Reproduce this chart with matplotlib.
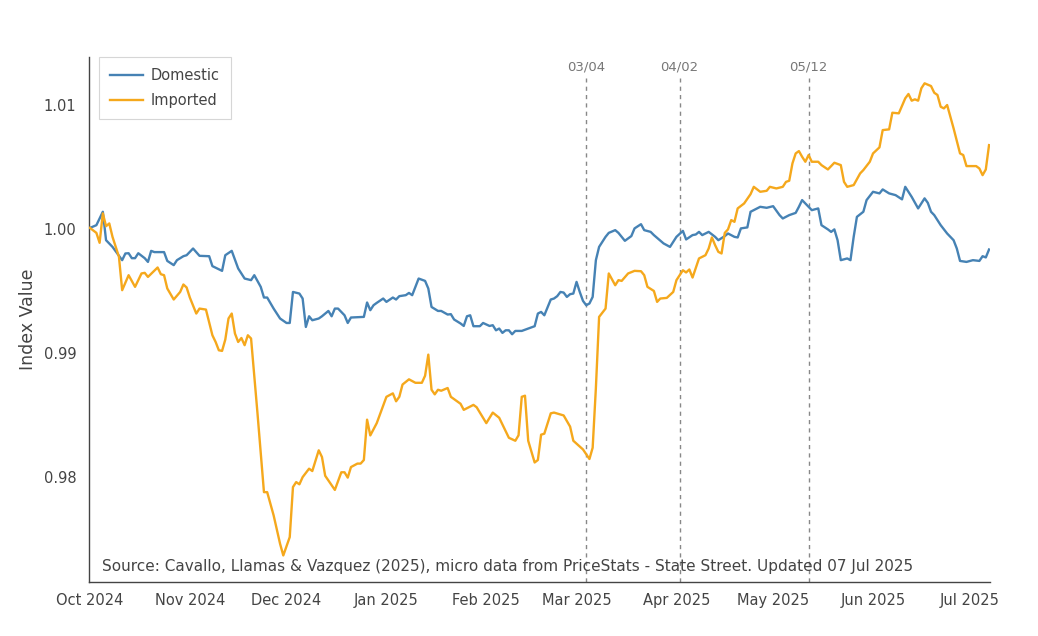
import matplotlib
matplotlib.use("Agg")
import matplotlib.pyplot as plt
import matplotlib.dates as mdates
import pandas as pd

start_date = "2024-10-01"

dom_days = [0, 2, 4, 5, 7, 10, 11, 12, 13, 14, 15, 17, 18, 19, 20, 23, 24, 26, 27, 29,
            30, 32, 34, 37, 38, 41, 42, 44, 46, 48, 50, 51, 53, 54, 55, 57, 59, 61, 62, 63,
            65, 66, 67, 68, 69, 71, 72, 74, 75, 76, 77, 79, 80, 81, 85, 86, 87, 88, 89, 91,
            92, 94, 95, 96, 98, 99, 100, 102, 104, 105, 106, 108, 109, 111, 112, 113, 115, 116, 117, 118,
            119, 121, 122, 124, 125, 126, 127, 128, 129, 130, 131, 132, 134, 136, 138, 139, 140, 141, 143, 144,
            145, 146, 147, 148, 149, 150, 151, 152, 153, 154, 155, 156, 157, 158, 160, 161, 163, 164, 166, 168,
            169, 171, 172, 174, 175, 178, 180, 182, 184, 185, 187, 188, 189, 190, 192, 194, 195, 197, 198, 200,
            201, 202, 204, 205, 207, 208, 210, 212, 214, 215, 217, 219, 220, 221, 222, 224, 226, 227, 229, 230,
            231, 232, 233, 235, 236, 237, 238, 240, 241, 243, 245, 246, 248, 250, 252, 253, 255, 257, 259, 260,
            261, 262, 264, 266, 268, 269, 270, 272, 274, 276, 277, 278, 279]
dom_vals = [1.0001, 1.00032, 1.0014, 0.99911, 0.99857, 0.9975, 0.99804, 0.99806, 0.99766, 0.99766,
            0.99806, 0.99766, 0.99736, 0.99825, 0.99815, 0.99815, 0.99744, 0.9971, 0.9975, 0.99782,
            0.9979, 0.99844, 0.99785, 0.99782, 0.99702, 0.99664, 0.9979, 0.99825, 0.99683, 0.99602,
            0.99589, 0.99629, 0.99535, 0.99449, 0.99449, 0.9936, 0.9928, 0.99244, 0.99244, 0.99494,
            0.99481, 0.99441, 0.99212, 0.99298, 0.99266, 0.9928, 0.99298, 0.99341, 0.99298, 0.9936,
            0.9936, 0.99306, 0.99244, 0.99288, 0.99293, 0.99409, 0.99347, 0.99387, 0.99406, 0.99441,
            0.99414, 0.99449, 0.99433, 0.9946, 0.99468, 0.99486, 0.99468, 0.99602, 0.99583, 0.99522,
            0.99373, 0.99341, 0.99341, 0.99312, 0.99315, 0.99272, 0.9924, 0.9922, 0.99298, 0.99306,
            0.99218, 0.99218, 0.99244, 0.9922, 0.99226, 0.99185, 0.99199, 0.99164, 0.99185, 0.99185,
            0.99153, 0.9918, 0.9918, 0.99199, 0.99218, 0.9932, 0.99333, 0.99306, 0.99433, 0.99441,
            0.9946, 0.99494, 0.99489, 0.99454, 0.99476, 0.99481, 0.99575, 0.99494, 0.99422, 0.99387,
            0.99401, 0.99454, 0.9975, 0.99857, 0.99938, 0.9997, 0.99992, 0.9997, 0.99906, 0.99944,
            1.00006, 1.0004, 0.99992, 0.99978, 0.99952, 0.99885, 0.99857, 0.99938, 0.99986, 0.99917,
            0.99952, 0.99957, 0.99978, 0.99952, 0.99978, 0.99938, 0.99911, 0.99944, 0.99965, 0.99938,
            0.99933, 1.00006, 1.00014, 1.0014, 1.00167, 1.0018, 1.00172, 1.00185, 1.00113, 1.00086,
            1.00113, 1.00131, 1.0018, 1.00234, 1.00207, 1.00153, 1.00167, 1.00032, 0.99998, 0.99978,
            0.99998, 0.99911, 0.9975, 0.99764, 0.9975, 0.99938, 1.00099, 1.0014, 1.00234, 1.00301,
            1.00288, 1.0032, 1.00288, 1.00274, 1.0024, 1.00341, 1.0026, 1.00167, 1.00248, 1.00212,
            1.0014, 1.00113, 1.00032, 0.99965, 0.99911, 0.99844, 0.99744, 0.99736, 0.9975, 0.99744,
            0.99782, 0.99772, 0.99836]

imp_days = [0, 2, 3, 4, 5, 6, 7, 9, 10, 12, 14, 16, 17, 18, 21, 22, 23, 24, 26, 28,
            29, 30, 31, 33, 34, 36, 38, 39, 40, 41, 42, 43, 44, 45, 46, 47, 48, 49, 50, 52,
            54, 55, 57, 59, 60, 62, 63, 64, 65, 66, 68, 69, 71, 72, 73, 76, 78, 79, 80, 81,
            83, 84, 85, 86, 87, 89, 92, 94, 95, 96, 97, 99, 101, 103, 104, 105, 106, 107, 108, 109,
            111, 112, 115, 116, 119, 120, 123, 125, 127, 130, 132, 133, 134, 135, 136, 138, 139, 140, 141, 143,
            144, 147, 149, 150, 153, 155, 156, 157, 158, 160, 161, 163, 164, 165, 167, 169, 171, 172, 173, 175,
            176, 177, 179, 181, 182, 184, 185, 186, 187, 189, 191, 192, 193, 194, 195, 196, 197, 198, 199, 200,
            201, 203, 205, 206, 208, 210, 211, 213, 215, 216, 217, 218, 219, 220, 221, 222, 223, 224, 226, 227,
            229, 231, 233, 234, 235, 237, 239, 240, 242, 243, 245, 246, 248, 249, 251, 253, 254, 255, 256, 257,
            258, 259, 261, 262, 263, 264, 265, 266, 268, 270, 271, 272, 275, 276, 277, 278, 279]
imp_vals = [1.0001, 0.9997, 0.9989, 1.00127, 1.00024, 1.00046, 0.99938, 0.99777, 0.99508, 0.99629,
            0.99535, 0.99643, 0.99648, 0.99615, 0.99691, 0.99637, 0.99629, 0.99522, 0.99433, 0.99494,
            0.99554, 0.9953, 0.99449, 0.9932, 0.9936, 0.99352, 0.99145, 0.99091, 0.99024, 0.99019,
            0.9911, 0.9928, 0.9932, 0.99159, 0.99091, 0.99123, 0.99065, 0.99145, 0.99119, 0.98514,
            0.97881, 0.97881, 0.97694, 0.97465, 0.97371, 0.97519, 0.97922, 0.97962, 0.97944, 0.98002,
            0.9807, 0.98051, 0.98218, 0.98164, 0.98013, 0.97899, 0.98041, 0.98041, 0.97998, 0.98083,
            0.98111, 0.98111, 0.9814, 0.98465, 0.98338, 0.98437, 0.98649, 0.98677, 0.98613, 0.98649,
            0.98748, 0.9879, 0.98762, 0.98762, 0.98819, 0.98989, 0.98706, 0.98669, 0.98706, 0.98698,
            0.9872, 0.98649, 0.98593, 0.98544, 0.98584, 0.98565, 0.98437, 0.98522, 0.9848, 0.98319,
            0.98295, 0.98339, 0.98649, 0.98658, 0.98295, 0.9812, 0.9814, 0.98344, 0.98352, 0.98516,
            0.98522, 0.98499, 0.98409, 0.98295, 0.98225, 0.98148, 0.98239, 0.9872, 0.99293, 0.9936,
            0.99643, 0.99548, 0.99589, 0.99583, 0.99643, 0.99664, 0.99661, 0.99629, 0.99535, 0.99502,
            0.99414, 0.99441, 0.99446, 0.99494, 0.99589, 0.99669, 0.99651, 0.99675, 0.9961, 0.99764,
            0.9979, 0.99844, 0.99933, 0.99871, 0.99817, 0.99804, 0.9997, 0.99998, 1.00073, 1.00059,
            1.00167, 1.00207, 1.00282, 1.00341, 1.00301, 1.00309, 1.00341, 1.00328, 1.00341, 1.00381,
            1.0039, 1.0053, 1.0061, 1.00629, 1.00583, 1.00543, 1.00597, 1.00543, 1.00543, 1.00516,
            1.00481, 1.00535, 1.00516, 1.00381, 1.00341, 1.00355, 1.00449, 1.00476, 1.00543, 1.0061,
            1.00659, 1.00798, 1.00804, 1.00938, 1.00933, 1.01054, 1.01089, 1.01035, 1.01046, 1.01035,
            1.01135, 1.01175, 1.01153, 1.01099, 1.01081, 1.00986, 1.00973, 1.01, 1.00812, 1.0061,
            1.00597, 1.00508, 1.00508, 1.00489, 1.00435, 1.00481, 1.00677]

event_dates = ["2025-03-04", "2025-04-02", "2025-05-12"]
event_labels = ["03/04", "04/02", "05/12"]
y_ticks = [0.98, 0.99, 1.00, 1.01]
series_names = ["Domestic", "Imported"]
source_text = ("Source: Cavallo, Llamas & Vazquez (2025), micro data from PriceStats - "
               "State Street. Updated 07 Jul 2025")

base = pd.Timestamp(start_date)
dom_dates = base + pd.to_timedelta(dom_days, unit="D")
imp_dates = base + pd.to_timedelta(imp_days, unit="D")

fig = plt.figure(figsize=(10.38, 6.36), dpi=100)
ax = fig.add_axes([89/1038, 54/636, 901/1038, 525/636])

c_dom = "#4682b4"
c_imp = "#f5a81c"
ax.plot(dom_dates, dom_vals, color=c_dom, lw=1.7, label=series_names[0], zorder=3)
ax.plot(imp_dates, imp_vals, color=c_imp, lw=1.7, label=series_names[1], zorder=3)

for d, lab in zip(event_dates, event_labels):
    dt = pd.Timestamp(d)
    ax.axvline(dt, ymin=0, ymax=0.96, color="#888888", lw=1, ls=(0, (3, 3)), zorder=2)
    ax.text(dt, 0.981, lab, transform=ax.get_xaxis_transform(), ha="center", va="center",
            fontsize=9.5, color="#777777")

ax.set_xlim(base - pd.Timedelta(hours=7), base + pd.Timedelta(days=279.3))
ax.set_ylim(0.97157, 1.01387)
ax.set_yticks(y_ticks)
ax.set_yticklabels([f"{v:.2f}" for v in y_ticks])
ax.xaxis.set_major_locator(mdates.MonthLocator())
ax.xaxis.set_major_formatter(mdates.DateFormatter("%b %Y"))
ax.tick_params(axis="both", length=0, labelsize=10.5, labelcolor="#444444")
ax.tick_params(axis="x", pad=8)
ax.tick_params(axis="y", pad=9)
for s in ["top", "right"]:
    ax.spines[s].set_visible(False)
for s in ["left", "bottom"]:
    ax.spines[s].set_color("#444444")
    ax.spines[s].set_linewidth(1)
ax.set_ylabel("Index Value", fontsize=12.5, color="#444444")
ax.yaxis.set_label_coords((37 - 89) / 901, 0.5)

ax.text(0.0144, 0.03, source_text, transform=ax.transAxes, ha="left", va="center",
        fontsize=10.95, color="#444444")

leg = ax.legend(loc="upper left", bbox_to_anchor=(10 / 901, 1.0), borderaxespad=0,
                frameon=True, fancybox=False, fontsize=10.5, handlelength=2.3,
                handletextpad=0.5, borderpad=0.75, labelspacing=0.72,
                edgecolor="#cccccc")
leg.get_frame().set_linewidth(0.8)
for t in leg.get_texts():
    t.set_color("#444444")

fig.savefig("out.png", dpi=100)
